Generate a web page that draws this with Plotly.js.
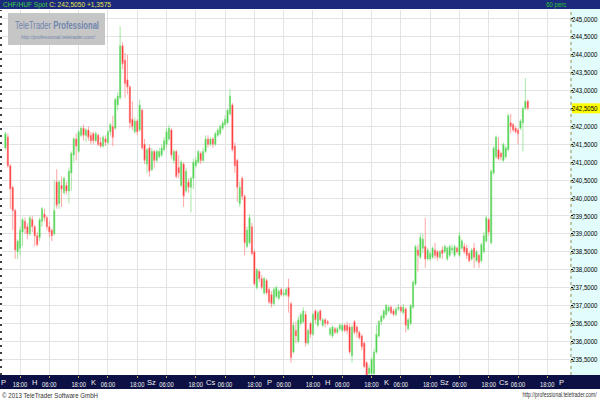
<!DOCTYPE html>
<html><head><meta charset="utf-8">
<script src="https://cdn.plot.ly/plotly-3.0.1.min.js"></script>
<style>html,body{margin:0;padding:0;background:#fff}#chart{width:600px;height:400px}</style>
</head><body><div id="chart"></div>
<script>
// Hourly candles (hour index counted from Friday 12:00, weekend removed)
const openP = [241.40,241.70,240.90,240.30,239.65,238.50,238.60,239.05,239.35,239.20,
239.00,239.40,239.20,238.95,238.90,239.35,239.55,239.45,239.20,239.10,
239.00,240.45,239.85,240.35,240.15,240.35,240.20,240.70,241.20,241.65,
241.30,241.75,241.95,241.75,241.90,241.75,241.80,241.60,241.75,241.55,
241.45,241.65,241.55,241.85,242.00,241.95,242.60,242.80,244.25,243.85,
243.30,243.10,242.20,241.85,242.15,241.90,242.45,241.50,240.95,241.40,
240.80,241.30,241.05,241.15,241.20,241.35,241.50,241.65,241.90,241.05,
241.30,240.85,240.35,240.95,240.20,240.45,240.30,240.55,240.90,241.00,
241.25,241.05,241.30,241.65,241.50,241.65,241.50,241.75,241.80,241.95,
242.05,242.10,242.35,242.60,241.45,241.05,239.85,240.55,240.05,238.65,
238.75,239.20,238.50,237.50,237.95,237.75,237.35,237.70,237.45,237.30,
237.05,237.25,237.20,237.45,237.30,237.30,237.50,237.05,235.70,236.30,
236.00,236.50,236.55,236.75,235.95,236.50,236.20,236.85,236.45,236.85,
236.45,236.60,236.55,236.20,236.15,236.35,236.25,236.35,236.30,236.45,
236.45,236.40,235.60,236.55,236.40,236.25,236.15,235.95,235.40,235.10,
235.10,235.10,235.70,236.15,236.55,236.65,236.75,236.85,236.95,236.85,
236.75,236.90,236.95,236.80,236.90,236.35,236.50,236.95,237.60,238.55,
238.35,238.60,238.65,238.30,238.30,238.35,238.55,238.50,238.35,238.55,
238.50,238.30,238.40,238.55,238.40,238.60,238.40,238.60,238.65,238.60,
238.45,238.30,238.60,238.25,238.40,238.25,238.50,238.80,239.40,238.75,
240.70,241.15,241.35,241.25,241.05,241.15,241.35,242.10,242.05,241.95,
241.90,241.95,242.10,242.50,242.70];
const highP = [241.85,241.80,240.95,240.35,239.70,238.85,239.20,239.45,239.45,239.30,
239.50,239.50,239.25,239.05,239.45,239.75,239.70,239.50,239.35,239.15,
240.50,240.80,240.50,240.60,240.60,240.45,240.85,241.30,241.70,241.80,
241.90,242.00,242.05,241.95,242.00,241.85,241.85,241.85,241.80,241.70,
241.75,241.75,241.90,242.10,242.30,242.80,242.95,244.80,244.35,244.05,
244.00,243.15,242.70,242.25,242.20,242.75,242.50,241.65,241.40,241.50,
241.40,241.35,241.35,241.40,241.50,241.70,241.95,242.05,241.95,241.35,
241.35,241.20,241.05,241.00,240.85,240.55,240.60,241.10,241.15,241.35,
241.30,241.40,241.75,241.75,241.70,241.70,241.85,241.95,242.05,242.15,
242.30,242.50,243.05,242.65,241.55,241.10,240.45,240.60,240.10,239.20,
239.55,239.30,238.55,238.05,238.00,237.85,237.80,237.75,237.50,237.40,
237.50,237.55,237.45,237.50,237.45,237.50,237.75,237.10,236.55,236.55,
236.70,236.80,236.95,236.85,236.35,236.55,236.80,236.90,236.85,236.90,
236.65,236.65,236.60,236.40,236.45,236.40,236.40,236.50,236.50,236.50,
236.55,236.50,236.45,236.60,236.45,236.30,236.20,236.00,235.45,235.35,
235.55,235.80,236.45,236.60,236.75,236.90,237.05,237.00,237.00,236.90,
236.95,237.05,237.00,237.05,236.95,236.65,237.05,237.70,238.70,238.70,
239.00,239.00,239.45,238.60,238.50,238.65,238.75,238.55,238.55,238.65,
238.70,238.65,238.70,238.70,238.70,238.65,239.05,238.85,238.75,238.70,
238.50,238.60,238.75,238.55,238.45,238.75,239.05,239.50,239.45,240.80,
241.45,241.75,241.70,241.30,241.55,241.45,242.35,242.35,242.10,242.00,
241.95,242.20,242.55,243.35,242.75];
const lowP = [241.35,240.85,239.70,239.10,238.30,238.30,238.40,238.65,239.00,238.85,
238.95,239.05,238.65,238.65,238.80,239.20,239.35,239.10,238.90,238.80,
238.95,239.70,239.70,239.75,240.10,240.10,239.85,240.20,241.00,241.05,
241.25,241.70,241.60,241.55,241.60,241.50,241.50,241.55,241.45,241.40,
241.40,241.45,241.50,241.75,241.45,241.90,242.45,242.75,243.60,242.80,
242.90,241.95,241.90,241.80,241.75,241.85,241.35,240.95,240.70,240.60,
240.75,240.85,241.00,241.10,241.15,241.30,241.40,241.60,241.10,240.95,
240.55,240.55,240.30,239.75,240.15,240.15,239.60,240.25,240.85,240.95,
240.95,241.00,241.25,241.40,241.45,241.40,241.45,241.70,241.75,241.90,
242.00,242.05,242.30,241.30,240.70,239.90,239.75,239.95,238.40,238.60,
238.70,238.40,237.55,237.45,237.65,237.45,237.30,237.30,237.05,236.95,
237.00,237.20,237.15,237.25,237.25,237.25,236.80,235.40,235.65,235.95,
235.95,236.45,236.50,235.85,235.90,236.10,236.15,236.50,236.40,236.55,
236.40,236.40,236.45,236.15,236.10,236.20,236.20,236.30,236.25,236.25,
236.20,235.65,235.40,236.20,236.10,236.05,235.75,235.25,234.95,235.00,
235.05,235.05,235.65,236.10,236.45,236.60,236.70,236.80,236.75,236.70,
236.70,236.85,236.80,236.75,236.25,236.30,236.45,236.90,237.55,237.95,
238.30,238.45,238.05,238.25,238.25,238.30,238.30,238.25,238.30,238.30,
238.45,238.25,238.35,238.45,238.35,238.45,238.35,238.55,238.45,238.30,
238.20,238.25,238.05,238.20,238.05,238.20,238.45,238.75,238.95,238.70,
240.65,241.10,241.05,241.05,241.00,241.10,241.30,241.80,241.85,241.80,
241.50,241.90,241.30,242.45,242.45];
const closeP = [241.80,240.90,240.25,239.65,238.55,238.80,239.10,239.40,239.15,239.00,
239.45,239.20,238.95,238.70,239.40,239.70,239.45,239.20,239.05,238.95,
239.65,239.80,240.45,240.25,240.55,240.20,240.75,241.25,241.65,241.45,
241.85,241.95,241.75,241.90,241.70,241.60,241.60,241.80,241.50,241.45,
241.70,241.55,241.85,242.05,241.70,242.75,242.85,244.25,243.75,243.20,
243.10,242.10,242.00,242.15,241.85,242.60,241.40,241.05,241.35,240.75,
241.30,241.05,241.30,241.30,241.40,241.60,241.85,241.95,241.20,241.30,
240.60,240.70,241.00,240.05,240.75,240.30,240.55,241.00,241.05,241.30,
241.05,241.30,241.65,241.50,241.65,241.50,241.80,241.90,242.00,242.10,
242.20,242.45,242.85,241.35,240.90,240.30,240.30,240.05,238.75,239.10,
239.45,238.45,237.60,238.00,237.75,237.50,237.75,237.35,237.10,237.05,
237.45,237.50,237.40,237.30,237.35,237.45,237.25,235.55,236.45,236.15,
236.60,236.75,236.85,235.95,236.30,236.20,236.75,236.60,236.80,236.60,
236.60,236.50,236.50,236.35,236.40,236.25,236.35,236.45,236.45,236.30,
236.30,235.70,236.40,236.25,236.25,236.10,235.85,235.30,235.00,235.25,
235.50,235.70,236.20,236.55,236.70,236.85,237.00,236.95,236.80,236.75,
236.90,236.95,236.85,236.95,236.45,236.60,237.00,237.65,238.65,238.40,
238.90,238.85,238.30,238.55,238.45,238.60,238.40,238.35,238.50,238.45,
238.65,238.60,238.65,238.60,238.65,238.50,238.95,238.80,238.50,238.40,
238.25,238.55,238.35,238.50,238.20,238.70,238.95,239.45,239.05,240.75,
241.40,241.70,241.10,241.15,241.50,241.40,242.30,242.00,241.90,241.85,
241.80,242.15,242.50,242.70,242.505];
const hours = closeP.map((_, i) => i);

const hourTickPos = [6,18,30,42,54,66,78,90,102,114,126,138,150,162,174,186,198,210,222];
const hourTickText = ['18:00','06:00','18:00','06:00','18:00','06:00','18:00','06:00','18:00','06:00',
  '18:00','06:00','18:00','06:00','18:00','06:00','18:00','06:00','18:00'];
const dayPos = [-0.6,12,36,60,84,108,132,156,180,204,228];
const dayText = ['P','H','K','Sz','Cs','P','H','K','Sz','Cs','P'];
const priceTicks = [235.5,236,236.5,237,237.5,238,238.5,239,239.5,240,240.5,241,241.5,242,242.505,243,243.5,244,244.5,245];
const priceTickText = ['235,5000','236,0000','236,5000','237,0000','237,5000','238,0000','238,5000','239,0000','239,5000','240,0000',
  '240,5000','241,0000','241,5000','242,0000','242,5050','243,0000','243,5000','244,0000','244,5000','245,0000'];
const lastPrice = 242.505;
const headerName = 'CHF/HUF Spot';
const headerQuote = 'C: 242,5050 +1,3575';
const periodText = '60 perc';
const copyText = '© 2013 TeleTrader Software GmbH';
const urlText = 'http://professional.teletrader.com/';
const brandA = 'TeleTrader';
const brandB = 'Professional';

// layout geometry helpers (pixels -> paper)
const PL = 2, PR = 570, PT = 10, PB = 375;
const fx = p => (p - PL) / (PR - PL);
const fy = p => (PB - p) / (PB - PT);

const trace = {
  type: 'candlestick', x: hours, open: openP, high: highP, low: lowP, close: closeP,
  increasing: {line: {color: '#7fdc7f', width: 0.7}, fillcolor: '#22cc22'},
  decreasing: {line: {color: '#ff8080', width: 0.7}, fillcolor: '#ff0000'},
  whiskerwidth: 0, hoverinfo: 'skip', showlegend: false
};

const font = 'Liberation Sans, Arial, sans-serif';
const annotations = [];
dayPos.forEach((d, k) => annotations.push({
  x: d, xref: 'x', y: fy(382), yref: 'paper', text: dayText[k], showarrow: false,
  font: {family: font, size: 7.5, color: '#f0f0f0'}, xanchor: 'center', yanchor: 'middle'
}));
annotations.push({x: fx(1), xref: 'paper', y: fy(5), yref: 'paper', xanchor: 'left', yanchor: 'middle', showarrow: false,
  text: '<span style="color:#3fd23f">' + headerName + '</span> <span style="color:#e6e64a">' + headerQuote + '</span>',
  font: {family: font, size: 7.5}});
annotations.push({x: fx(568), xref: 'paper', y: fy(5), yref: 'paper', xanchor: 'right', yanchor: 'middle', showarrow: false,
  text: periodText, font: {family: font, size: 7.5, color: '#2ec82e'}});
annotations.push({x: fx(0), xref: 'paper', y: fy(395), yref: 'paper', xanchor: 'left', yanchor: 'middle', showarrow: false,
  text: copyText, font: {family: font, size: 7.5, color: '#333333'}});
annotations.push({x: fx(599), xref: 'paper', y: fy(395), yref: 'paper', xanchor: 'right', yanchor: 'middle', showarrow: false,
  text: urlText, font: {family: font, size: 7, color: '#333333'}});
annotations.push({x: fx(13), xref: 'paper', y: fy(25), yref: 'paper', xanchor: 'left', yanchor: 'middle', showarrow: false,
  text: brandA + ' <b>' + brandB + '</b>', font: {family: font, size: 11, color: '#7085ad'}});
annotations.push({x: fx(97), xref: 'paper', y: fy(37), yref: 'paper', xanchor: 'right', yanchor: 'middle', showarrow: false,
  text: '<i>' + urlText + '</i>', font: {family: font, size: 5.5, color: '#7085ad'}});

const shapes = [
  {type: 'rect', xref: 'paper', yref: 'paper', x0: fx(0), x1: fx(600), y0: fy(0), y1: fy(9), fillcolor: '#1b2a7c', line: {width: 0}, layer: 'below'},
  {type: 'rect', xref: 'paper', yref: 'paper', x0: fx(0), x1: fx(600), y0: fy(375), y1: fy(389), fillcolor: '#0c1045', line: {width: 0}, layer: 'below'},
  {type: 'rect', xref: 'paper', yref: 'paper', x0: fx(570), x1: fx(600), y0: fy(375), y1: fy(9), fillcolor: '#e2fcfc', line: {width: 0}, layer: 'below'},
  {type: 'rect', xref: 'paper', yref: 'y', x0: fx(572), x1: fx(600), y0: lastPrice - 0.14, y1: lastPrice + 0.14, fillcolor: '#ffff00', line: {width: 0}, layer: 'below'},
  {type: 'line', xref: 'paper', yref: 'paper', x0: fx(571), x1: fx(571), y0: fy(375), y1: fy(9), line: {color: '#9a9050', width: 1, dash: 'dot'}},
  {type: 'line', xref: 'paper', yref: 'paper', x0: fx(1), x1: fx(1), y0: fy(375), y1: fy(10), line: {color: '#000000', width: 1.5, dash: '2px,5px'}},
  {type: 'rect', xref: 'paper', yref: 'paper', x0: fx(8), x1: fx(105), y0: fy(45), y1: fy(13), fillcolor: 'rgba(192,192,192,0.9)', line: {width: 0}}
];

const layout = {
  width: 600, height: 400,
  margin: {l: PL, r: 600 - PR, t: PT, b: 400 - PB},
  paper_bgcolor: '#ffffff', plot_bgcolor: '#ffffff',
  separators: ',.',
  showlegend: false,
  xaxis: {
    range: [-1.4, 231.3], type: 'linear', rangeslider: {visible: false},
    tickmode: 'array', tickvals: hourTickPos, ticktext: hourTickText,
    showgrid: true, gridcolor: '#e3e3e3', gridwidth: 1, zeroline: false,
    ticks: 'outside', ticklen: 2, tickcolor: '#b8a860',
    tickfont: {family: font, size: 7.5, color: '#f0f0f0'}, showline: false
  },
  yaxis: {
    range: [235.06, 245.25], side: 'right',
    tickmode: 'array', tickvals: priceTicks, ticktext: priceTickText,
    showgrid: true, gridcolor: '#e3e3e3', gridwidth: 1, zeroline: false,
    ticks: 'outside', ticklen: 2, tickcolor: '#000000',
    tickfont: {family: font, size: 7.5, color: '#000000'}, showline: false
  },
  annotations: annotations, shapes: shapes
};

// condense a text element to a given width (the original uses a narrow font)
function squeeze(el, target, align, shift) {
  const bb = el.getBBox();
  let x0 = align === 'left' ? bb.x : align === 'right' ? bb.x + bb.width - target : bb.x + (bb.width - target) / 2;
  x0 += (shift || 0);
  el.setAttribute('text-anchor', 'start');
  el.setAttribute('x', x0);
  el.querySelectorAll('tspan').forEach(t => { if (t.hasAttribute('x')) t.setAttribute('x', x0); });
  el.setAttribute('textLength', target);
  el.setAttribute('lengthAdjust', 'spacingAndGlyphs');
}

Plotly.newPlot('chart', [trace], layout, {staticPlot: true, displayModeBar: false}).then(gd => {
  gd.querySelectorAll('.ytick text').forEach(el => squeeze(el, 25.5, 'left', -2.5));
  gd.querySelectorAll('.xtick text').forEach(el => squeeze(el, 14.5, 'center'));
  gd.querySelectorAll('text.annotation-text').forEach(el => {
    const t = el.textContent;
    if (t.indexOf(headerName) === 0) squeeze(el, 108, 'left');
    else if (t === periodText) squeeze(el, 20, 'right');
    else if (t === copyText) squeeze(el, 96, 'left');
    else if (t === urlText && el.getBBox().y > 300) squeeze(el, 78, 'right');
    else if (t === urlText) squeeze(el, 74, 'right');
    else if (t.indexOf(brandA) === 0) squeeze(el, 84, 'left');
  });
});
</script>
</body></html>
